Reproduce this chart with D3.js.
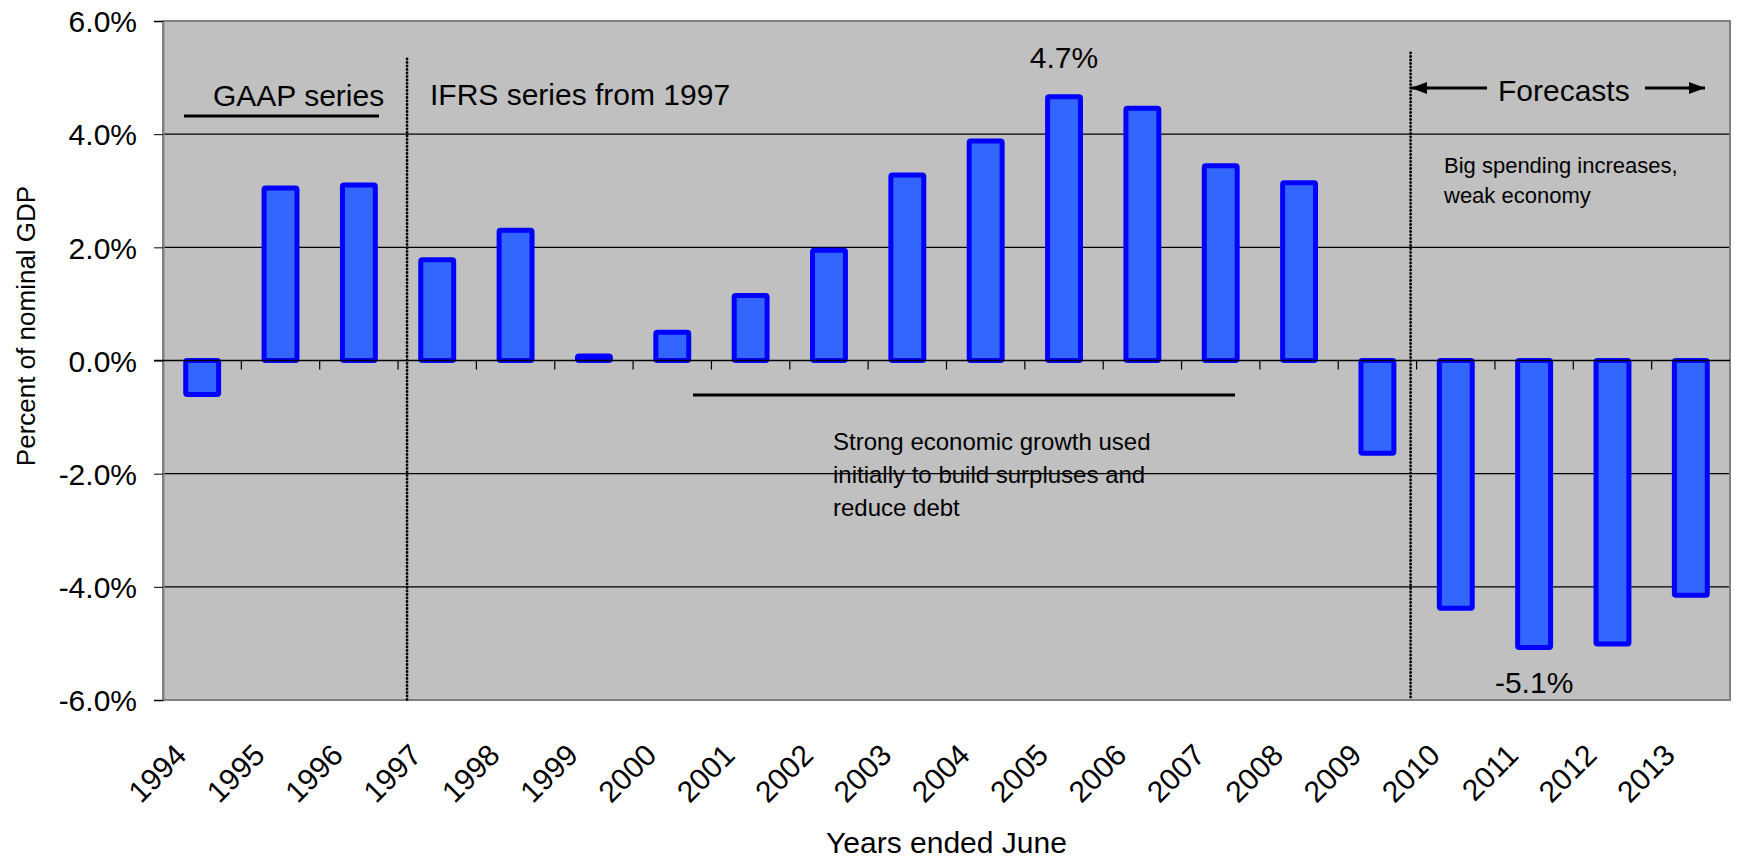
<!DOCTYPE html>
<html>
<head>
<meta charset="utf-8">
<script src="https://cdn.jsdelivr.net/npm/d3@7"></script>
<style>
	body { margin: 0; background: #fff; }
	svg text { font-family: "Liberation Sans", Arial, sans-serif; fill: #000; }
</style>
</head>
<body>
<div id="main"></div>
<script>
const years = ["1994", "1995", "1996", "1997", "1998", "1999", "2000", "2001", "2002", "2003",
	"2004", "2005", "2006", "2007", "2008", "2009", "2010", "2011", "2012", "2013"];
const balance = [-0.6, 3.05, 3.1, 1.78, 2.3, 0.08, 0.5, 1.15, 1.95, 3.28,
	3.88, 4.66, 4.46, 3.44, 3.14, -1.64, -4.38, -5.07, -5.01, -4.15];
const yTicks = [-6, -4, -2, 0, 2, 4, 6];
const gridValues = [-4, -2, 2, 4];

const W = 1737, H = 860;
let margin = {top: 21, right: 7, bottom: 160, left: 163};
let width = W - margin.left - margin.right;
let height = H - margin.top - margin.bottom;

let x = d3.scaleBand()
	.domain(years)
	.range([0, width])
	.paddingInner(0.58)
	.paddingOuter(0.29);

let y = d3.scaleLinear()
	.domain([-6, 6])
	.range([height, 0]);

// left edge of a category slot
const edge = d => x(d) - (x.step() - x.bandwidth()) / 2;
// plain hyphen for negatives, like the original
const pct = d => d3.format(".1f")(d).replace("\u2212", "-") + "%";

let svg = d3.select("#main")
	.append("svg")
		.attr("width", W)
		.attr("height", H)
	.append("g")
		.attr("transform", `translate(${margin.left}, ${margin.top})`);

// plot background
svg.append("rect")
	.attr("width", width)
	.attr("height", height)
	.style("fill", "#c0c0c0");

// grid
svg.append("g")
	.selectAll("line")
	.data(gridValues)
	.enter()
	.append("line")
		.attr("x1", 0)
		.attr("x2", width)
		.attr("y1", d => y(d))
		.attr("y2", d => y(d))
		.style("stroke", "#000")
		.style("stroke-width", 1.2);

// plot border
svg.append("rect")
	.attr("width", width)
	.attr("height", height)
	.style("fill", "none")
	.style("stroke", "#808080")
	.style("stroke-width", 2);

// y axis
let yAxis = svg.append("g")
	.call(d3.axisLeft(y)
		.tickValues(yTicks)
		.tickSize(9)
		.tickPadding(17)
		.tickFormat(pct));
yAxis.select(".domain").style("stroke", "#808080").style("stroke-width", 2);
yAxis.selectAll(".tick line").style("stroke", "#000");
yAxis.selectAll("text")
	.style("font-size", "30px")
	.attr("dy", "0.36em");

// dotted separators
const separators = [
	{year: "1997", off: 9, top: 38},
	{year: "2010", off: -6, top: 32}
];
svg.append("g")
	.selectAll("line")
	.data(separators)
	.enter()
	.append("line")
		.attr("x1", d => edge(d.year) + d.off)
		.attr("x2", d => edge(d.year) + d.off)
		.attr("y1", d => d.top)
		.attr("y2", height)
		.style("stroke", "#000")
		.style("stroke-width", 2.8)
		.style("stroke-linecap", "round")
		.style("stroke-dasharray", "0.1,3.4");

// bars
svg.append("g")
	.selectAll("rect")
	.data(years)
	.enter()
	.append("rect")
		.attr("x", d => x(d))
		.attr("width", x.bandwidth())
		.attr("y", (d, i) => y(Math.max(0, balance[i])))
		.attr("height", (d, i) => Math.abs(y(balance[i]) - y(0)))
		.attr("rx", 1.5)
		.style("fill", "#3366ff")
		.style("stroke", "#0000ff")
		.style("stroke-width", 5)
		.style("stroke-linejoin", "round");

// zero line with category boundary ticks
svg.append("line")
	.attr("x1", -9)
	.attr("x2", width)
	.attr("y1", y(0))
	.attr("y2", y(0))
	.style("stroke", "#000")
	.style("stroke-width", 1.5);
svg.append("g")
	.selectAll("line")
	.data(years.slice(1))
	.enter()
	.append("line")
		.attr("x1", d => edge(d))
		.attr("x2", d => edge(d))
		.attr("y1", y(0))
		.attr("y2", y(0) + 9)
		.style("stroke", "#000")
		.style("stroke-width", 1.2);

// x labels
let xAxis = svg.append("g")
	.attr("transform", `translate(0, ${height})`)
	.call(d3.axisBottom(x).tickSize(0));
xAxis.select(".domain").remove();
xAxis.selectAll("text")
	.style("font-size", "30px")
	.style("text-anchor", "end")
	.attr("x", 0)
	.attr("y", 0)
	.attr("dy", 0)
	.attr("transform", "translate(-14, 57) rotate(-45)");

// axis titles
svg.append("text")
	.attr("x", width / 2)
	.attr("y", 832)
	.attr("text-anchor", "middle")
	.style("font-size", "30px")
	.text("Years ended June");

svg.append("text")
	.attr("transform", `translate(${-128}, ${305}) rotate(-90)`)
	.attr("text-anchor", "middle")
	.style("font-size", "26px")
	.text("Percent of nominal GDP");

// annotations
const big = (tx, ty, str, anchor) => svg.append("text")
	.attr("x", tx)
	.attr("y", ty)
	.attr("text-anchor", anchor || "start")
	.style("font-size", "30px")
	.text(str);

big(50, 85, "GAAP series");
big(267, 84, "IFRS series from 1997");
big(1335, 80, "Forecasts");
big(x("2005") + x.bandwidth() / 2, 47, "4.7%", "middle");
big(x("2011") + x.bandwidth() / 2, 672, "-5.1%", "middle");

svg.append("line")
	.attr("x1", 21).attr("x2", 216)
	.attr("y1", 95).attr("y2", 95)
	.style("stroke", "#000").style("stroke-width", 3);

svg.append("line")
	.attr("x1", 530).attr("x2", 1072)
	.attr("y1", 374).attr("y2", 374)
	.style("stroke", "#000").style("stroke-width", 3);

const small = (tx, ty, lines, size) => {
	let t = svg.append("text")
		.attr("x", tx)
		.attr("y", ty)
		.style("font-size", size + "px");
	lines.forEach((l, i) => {
		t.append("tspan")
			.attr("x", tx)
			.attr("dy", i ? "1.38em" : 0)
			.text(l);
	});
};
small(670, 429, ["Strong economic growth used", "initially to build surpluses and", "reduce debt"], 24);
small(1281, 152, ["Big spending increases,", "weak economy"], 22);

// forecast arrows
svg.append("defs").append("marker")
	.attr("id", "head")
	.attr("viewBox", "0 0 16 12")
	.attr("refX", 16)
	.attr("refY", 6)
	.attr("markerWidth", 16)
	.attr("markerHeight", 12)
	.attr("markerUnits", "userSpaceOnUse")
	.attr("orient", "auto")
	.append("path")
		.attr("d", "M0,0L16,6L0,12Z")
		.style("fill", "#000");

const arrows = [[1324, 1248], [1482, 1542]];
svg.append("g")
	.selectAll("line")
	.data(arrows)
	.enter()
	.append("line")
		.attr("x1", d => d[0])
		.attr("x2", d => d[1])
		.attr("y1", 67)
		.attr("y2", 67)
		.style("stroke", "#000")
		.style("stroke-width", 3)
		.attr("marker-end", "url(#head)");
</script>
</body>
</html>
